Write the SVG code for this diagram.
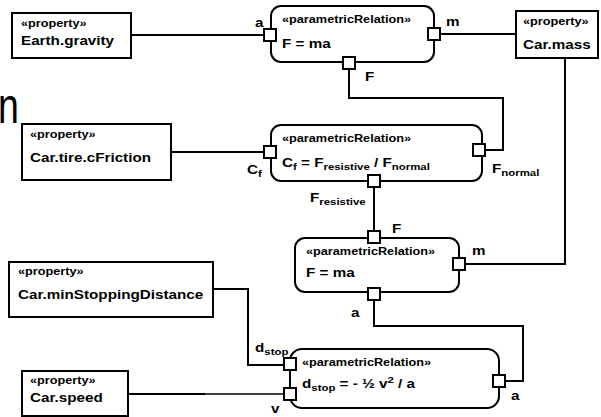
<svg xmlns="http://www.w3.org/2000/svg" width="601" height="417" viewBox="0 0 601 417">
<style>
.box{fill:#fff;stroke:#000;stroke-width:2}
.rel{fill:#fff;stroke:#000;stroke-width:2}
.port{fill:#fff;stroke:#000;stroke-width:2}
.wire{fill:none;stroke:#000;stroke-width:2}
.thin{fill:none;stroke:#000;stroke-width:1.4}
text{font-family:"Liberation Sans",Arial,sans-serif;font-weight:bold;fill:#000}
.st{font-size:10px}
.nm{font-size:12px}
.eq{font-size:12px}
.lb{font-size:12px}
.sub{font-size:9px}
</style>
<rect x="0" y="0" width="601" height="417" fill="#fff"/>
<text transform="translate(-2 123) scale(0.75 1)" style="font-size:50px;font-weight:normal">n</text>
<g id="connectors">
  <path class="wire" d="M131,35 H264"/>
  <path class="wire" d="M440,34 H516"/>
  <path class="wire" d="M349,69 V98 H503 V150 H485"/>
  <path class="wire" d="M171,152 H264"/>
  <path class="wire" d="M374,187 V231"/>
  <path class="wire" d="M465,264 H565 V58"/>
  <path class="wire" d="M374,300 V326 H523 V381 H505"/>
  <path class="wire" d="M213,289 H248 V365 H284"/>
  <path class="wire" d="M128,394 H205"/>
  <path class="thin" d="M205,394 H284"/>
  <path class="wire" d="M290,370 V388"/>
</g>
<g id="earth-gravity">
  <rect class="box" x="12" y="13" width="119" height="45"/>
  <text class="st" transform="translate(21 27) scale(1.27 1)">«property»</text>
  <text class="nm" transform="translate(21 45) scale(1.27 1)">Earth.gravity</text>
</g>
<g id="car-mass">
  <rect class="box" x="516" y="11" width="82" height="47"/>
  <text class="st" transform="translate(523 25) scale(1.27 1)">«property»</text>
  <text class="nm" transform="translate(523 49) scale(1.27 1)">Car.mass</text>
</g>
<g id="car-tire-cfriction">
  <rect class="box" x="22" y="124" width="149" height="56"/>
  <text class="st" transform="translate(30 138) scale(1.27 1)">«property»</text>
  <text class="nm" transform="translate(30 162) scale(1.27 1)">Car.tire.cFriction</text>
</g>
<g id="car-minstoppingdistance">
  <rect class="box" x="9" y="262" width="204" height="55"/>
  <text class="st" transform="translate(18 275) scale(1.27 1)">«property»</text>
  <text class="nm" transform="translate(18 299) scale(1.27 1)">Car.minStoppingDistance</text>
</g>
<g id="car-speed">
  <rect class="box" x="22" y="371" width="106" height="45"/>
  <text class="st" transform="translate(30 384) scale(1.27 1)">«property»</text>
  <text class="nm" transform="translate(30 402) scale(1.27 1)">Car.speed</text>
</g>
<g id="rel-fma-1">
  <rect class="rel" x="271" y="6" width="163" height="56" rx="10"/>
  <text class="st" transform="translate(282 23) scale(1.27 1)">«parametricRelation»</text>
  <text class="eq" transform="translate(282 48) scale(1.27 1)">F = ma</text>
  <rect class="port" x="264" y="29" width="12" height="12"/>
  <rect class="port" x="428" y="28" width="12" height="12"/>
  <rect class="port" x="343" y="57" width="12" height="12"/>
  <text class="lb" transform="translate(255 27) scale(1.27 1)">a</text>
  <text class="lb" transform="translate(446 26) scale(1.27 1)">m</text>
  <text class="lb" transform="translate(365 81) scale(1.27 1)">F</text>
</g>
<g id="rel-friction">
  <rect class="rel" x="271" y="125" width="211" height="56" rx="10"/>
  <text class="st" transform="translate(282 142) scale(1.27 1)">«parametricRelation»</text>
  <text class="eq" transform="translate(282 167) scale(1.27 1)">C<tspan class="sub" dy="3">f</tspan><tspan dy="-3"> = F</tspan><tspan class="sub" dy="3">resistive</tspan><tspan dy="-3"> / F</tspan><tspan class="sub" dy="3">normal</tspan></text>
  <rect class="port" x="264" y="146" width="12" height="12"/>
  <rect class="port" x="473" y="144" width="12" height="12"/>
  <rect class="port" x="368" y="175" width="12" height="12"/>
  <text class="lb" transform="translate(247 174) scale(1.27 1)">C<tspan class="sub" dy="3">f</tspan></text>
  <text class="lb" transform="translate(492 173) scale(1.27 1)">F<tspan class="sub" dy="3">normal</tspan></text>
  <text class="lb" transform="translate(310 202) scale(1.27 1)">F<tspan class="sub" dy="3">resistive</tspan></text>
</g>
<g id="rel-fma-2">
  <rect class="rel" x="295" y="238" width="164" height="54" rx="10"/>
  <text class="st" transform="translate(306 255) scale(1.27 1)">«parametricRelation»</text>
  <text class="eq" transform="translate(306 277) scale(1.27 1)">F = ma</text>
  <rect class="port" x="368" y="231" width="12" height="12"/>
  <rect class="port" x="453" y="258" width="12" height="12"/>
  <rect class="port" x="368" y="288" width="12" height="12"/>
  <text class="lb" transform="translate(392 233) scale(1.27 1)">F</text>
  <text class="lb" transform="translate(472 255) scale(1.27 1)">m</text>
  <text class="lb" transform="translate(351 317) scale(1.27 1)">a</text>
</g>
<g id="rel-stopping">
  <rect class="rel" x="290" y="349" width="209" height="59" rx="12"/>
  <text class="st" transform="translate(302 366) scale(1.27 1)">«parametricRelation»</text>
  <text class="eq" transform="translate(302 388) scale(1.27 1)">d<tspan class="sub" dy="3">stop</tspan><tspan dy="-3"> = - ½ v</tspan><tspan class="sub" dy="-5">2</tspan><tspan dy="5"> / a</tspan></text>
  <rect class="port" x="284" y="358" width="12" height="12"/>
  <rect class="port" x="284" y="388" width="12" height="12"/>
  <rect class="port" x="493" y="375" width="12" height="12"/>
  <text class="lb" transform="translate(255 352) scale(1.27 1)">d<tspan class="sub" dy="3">stop</tspan></text>
  <text class="lb" transform="translate(271 413) scale(1.27 1)">v</text>
  <text class="lb" transform="translate(511 400) scale(1.27 1)">a</text>
</g>
</svg>
